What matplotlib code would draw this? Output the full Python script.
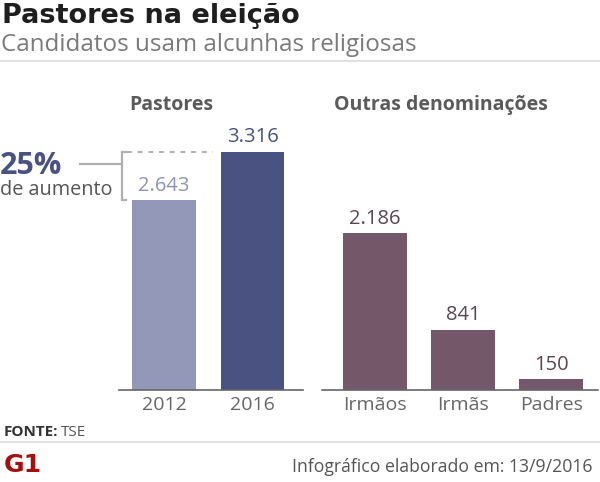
import matplotlib
matplotlib.use("Agg")
import matplotlib.pyplot as plt
from matplotlib.lines import Line2D

# data
years = ["2012", "2016"]
pastores = [2643, 3316]
outras = ["Irmãos", "Irmãs", "Padres"]
outras_vals = [2186, 841, 150]

W, H = 600, 482
fig = plt.figure(figsize=(W / 100, H / 100), dpi=100)
fig.patch.set_facecolor("white")


def fx(x):
    return x / W


def fy(y):
    return 1 - y / H


def fmt(v):
    return "{:,}".format(v).replace(",", ".")


FONT = "Open Sans"
base, top = 390, 131
ymax = 3604

# left panel
ax1 = fig.add_axes([fx(119), fy(base), fx(303 - 119), (base - top) / H])
ax1.bar(range(len(years)), pastores, width=0.72, color=["#9397b8", "#4a5282"])
ax1.set_xlim(-0.51, 1.57)
ax1.set_ylim(0, ymax)
lab_col = ["#8f93b5", "#4a5282"]
for i, v in enumerate(pastores):
    ax1.text(i, v + 60, fmt(v), ha="center", va="bottom", fontsize=14.5,
             color=lab_col[i], family=FONT)

# bracket + dotted line
gray = "#b0b0b0"
bx = -0.475
ax1.plot([bx, bx], pastores, color=gray, lw=1.6, clip_on=False, solid_capstyle="butt")
for v in pastores:
    ax1.plot([bx, bx + 0.045], [v, v], color=gray, lw=1.6, clip_on=False)
ax1.plot([bx + 0.06, 0.55], [pastores[1], pastores[1]], color=gray, lw=1.4,
         ls=(0, (2.5, 3)), clip_on=False)

# right panel
ax2 = fig.add_axes([fx(322), fy(base), fx(598 - 322), (base - top) / H])
ax2.bar(range(len(outras)), outras_vals, width=0.727, color="#74586a")
ax2.set_xlim(-0.60, 2.53)
ax2.set_ylim(0, ymax)
for i, v in enumerate(outras_vals):
    ax2.text(i, v + 60, fmt(v), ha="center", va="bottom", fontsize=14.5,
             color="#574752", family=FONT)

for ax, labels in [(ax1, years), (ax2, outras)]:
    for s in ["top", "right", "left"]:
        ax.spines[s].set_visible(False)
    ax.spines["bottom"].set_color("#666666")
    ax.spines["bottom"].set_linewidth(1.2)
    ax.set_yticks([])
    ax.set_xticks(range(len(labels)))
    ax.set_xticklabels(labels, fontsize=14, color="#666666", family=FONT)
    ax.tick_params(axis="x", length=0, pad=4)
    ax.patch.set_alpha(0)

# header
fig.text(fx(2), fy(16), "Pastores na eleição", fontsize=19.5, fontweight="bold",
         color="#1e1e1e", va="center", ha="left", family="DejaVu Sans")
fig.text(fx(1), fy(45), "Candidatos usam alcunhas religiosas", fontsize=17.4,
         color="#7a7a7a", va="center", ha="left", family=FONT)
fig.add_artist(Line2D([0, 1], [fy(61), fy(61)], color="#e2e2e2", lw=1.5))

# panel titles
fig.text(fx(171), fy(105), "Pastores", fontsize=14, fontweight="bold",
         color="#5a5a5a", ha="center", va="center", family=FONT)
fig.text(fx(441), fy(105), "Outras denominações", fontsize=14, fontweight="bold",
         color="#5a5a5a", ha="center", va="center", family=FONT)

# annotation
fig.text(fx(0), fy(166), "25%", fontsize=22, fontweight="bold", color="#4a5282",
         ha="left", va="center", family=FONT)
fig.text(fx(0), fy(190), "de aumento", fontsize=14.3, color="#555555",
         ha="left", va="center", family=FONT)
fig.add_artist(Line2D([fx(80), fx(120)], [fy(164), fy(164)], color=gray, lw=1.6))

# footer
fig.text(fx(4), fy(432), "FONTE:", fontsize=11, fontweight="bold", color="#333333",
         ha="left", va="center", family=FONT)
fig.text(fx(61), fy(432), "TSE", fontsize=11, color="#555555",
         ha="left", va="center", family=FONT)
fig.add_artist(Line2D([0, 1], [fy(442), fy(442)], color="#e2e2e2", lw=1.5))
fig.text(fx(4), fy(465), "G1", fontsize=18, fontweight="heavy", color="#a50f0f",
         ha="left", va="center", family="DejaVu Sans")
fig.text(fx(592), fy(467), "Infográfico elaborado em: 13/9/2016", fontsize=12.7,
         color="#555555", ha="right", va="center", family=FONT)

fig.savefig("out.png", dpi=100)
